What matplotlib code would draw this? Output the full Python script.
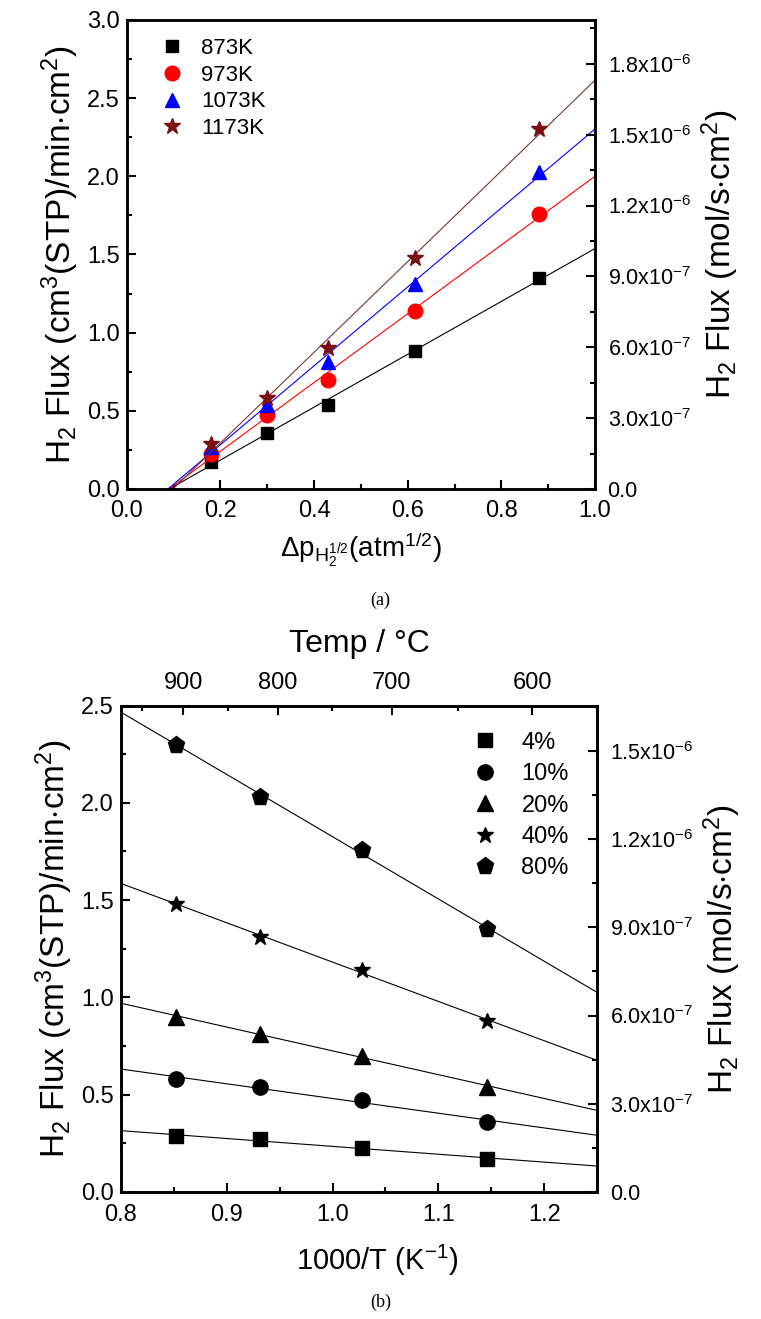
import numpy as np
import matplotlib
matplotlib.use('Agg')
import matplotlib.pyplot as plt
from matplotlib.ticker import MultipleLocator, FixedLocator

plt.rcParams['font.family'] = ['Liberation Sans', 'DejaVu Sans']
plt.rcParams['mathtext.fontset'] = 'custom'
plt.rcParams['mathtext.rm'] = 'Liberation Sans'
plt.rcParams['mathtext.it'] = 'Liberation Sans:italic'
plt.rcParams['mathtext.bf'] = 'Liberation Sans:bold'

# measured data, H2 flux in cm3(STP)/min.cm2
dp_half = [0.18, 0.30, 0.43, 0.615, 0.88]          # sqrt pressure difference
conc_labels = ['4%', '10%', '20%', '40%', '80%']    # one per dp_half value
temps_K = [873, 973, 1073, 1173]
temp_labels = ['873K', '973K', '1073K', '1173K']
flux_873 = [0.17, 0.36, 0.54, 0.88, 1.35]
flux_973 = [0.225, 0.47, 0.70, 1.14, 1.76]
flux_1073 = [0.27, 0.54, 0.81, 1.31, 2.03]
flux_1173 = [0.285, 0.58, 0.90, 1.48, 2.30]
flux_by_temp = [flux_873, flux_973, flux_1073, flux_1173]

temp_ticks_C = [900, 800, 700, 600]
temp_minor_C = [950, 850, 750, 650]

mol_factor = 6.62e-7  # right axis scale

def style(ax, size):
    for s in ax.spines.values():
        s.set_linewidth(1.8)
    ax.tick_params(which='both', direction='in', width=1.5, labelsize=size)
    ax.tick_params(which='major', length=6.5)
    ax.tick_params(which='minor', length=3.5)

def mol_fmt(v, pos):
    if v < 1e-12:
        return '0.0' if abs(v) < 1e-12 else ''
    e = int(np.floor(np.log10(v) + 1e-9))
    return '%.1fx10$^{%d}$' % (v / 10**e, e)

fig = plt.figure(figsize=(7.61, 13.19), dpi=100)

# ---------- (a) ----------
ax1 = fig.add_axes([0.1665, 0.6293, 0.6154, 0.3556])
colors = ['black', 'red', 'blue', '#7a1010']
line_colors = ['black', 'red', 'blue', '#7a3535']
markers = ['s', 'o', '^', '*']
sizes = [9, 10.5, 10.5, 12]
for flux, lab, c, lc, m, ms in zip(flux_by_temp, temp_labels, colors, line_colors, markers, sizes):
    k, b = np.polyfit(dp_half, flux, 1)
    xs = np.array([-b / k, 1.0])
    ax1.plot(xs, k * xs + b, color=lc, lw=0.8)
    ax1.plot(dp_half, flux, ls='none', marker=m, ms=ms, color=c, label=lab)

ax1.set_xlim(0, 1.0)
ax1.set_ylim(0, 3.0)
ax1.xaxis.set_major_locator(MultipleLocator(0.2))
ax1.xaxis.set_minor_locator(MultipleLocator(0.1))
ax1.yaxis.set_major_locator(MultipleLocator(0.5))
ax1.yaxis.set_minor_locator(MultipleLocator(0.25))
ax1.xaxis.set_major_formatter(lambda v, p: '%.1f' % v)
ax1.yaxis.set_major_formatter(lambda v, p: '%.1f' % v)
style(ax1, 17)
ax1.tick_params(axis='x', pad=8)
ax1.tick_params(axis='y', pad=5)
ax1.set_xlabel(r'$\Delta\mathrm{p}_{\mathrm{H}_2^{1/2}}$(atm$^{1/2}$)', fontsize=20, labelpad=6)
ax1.set_ylabel(r'H$_2$ Flux (cm$^3$(STP)/min$\cdot$cm$^2$)', fontsize=24, labelpad=4)
ax1.legend(loc='upper left', bbox_to_anchor=(0.054, 0.98), frameon=False, fontsize=16,
           handlelength=1.0, handletextpad=0.8, labelspacing=0.25, borderaxespad=0)

ax1r = ax1.twinx()
ax1r.set_ylim(0, 3.0 * mol_factor)
ax1r.yaxis.set_major_locator(MultipleLocator(3e-7))
ax1r.yaxis.set_minor_locator(MultipleLocator(1.5e-7))
ax1r.yaxis.set_major_formatter(mol_fmt)
style(ax1r, 15.5)
ax1r.tick_params(axis='y', pad=9)
ax1r.set_ylabel(r'H$_2$ Flux (mol/s$\cdot$cm$^2$)', fontsize=24, labelpad=6)

fig.text(0.5, 1 - 600 / 1319, '(a)', ha='center', va='center', fontsize=13,
         family='Liberation Serif')

# ---------- (b) ----------
ax2 = fig.add_axes([0.1586, 0.0965, 0.6263, 0.3685])
inv_T = 1000.0 / np.array(temps_K)
markers_b = ['s', 'o', '^', '*', 'p']
sizes_b = [10, 11, 11, 12, 12.5]
x_fit = np.array([0.8, 1.25])
for i, lab in enumerate(conc_labels):
    y = [flux[i] for flux in flux_by_temp]
    k, b = np.polyfit(inv_T, y, 1)
    ax2.plot(x_fit, k * x_fit + b, color='black', lw=0.8)
    ax2.plot(inv_T, y, ls='none', marker=markers_b[i], ms=sizes_b[i], color='black', label=lab)

ax2.set_xlim(0.8, 1.25)
ax2.set_ylim(0, 2.5)
ax2.xaxis.set_major_locator(MultipleLocator(0.1))
ax2.xaxis.set_minor_locator(MultipleLocator(0.05))
ax2.yaxis.set_major_locator(MultipleLocator(0.5))
ax2.yaxis.set_minor_locator(MultipleLocator(0.25))
ax2.xaxis.set_major_formatter(lambda v, p: '%.1f' % v)
ax2.yaxis.set_major_formatter(lambda v, p: '%.1f' % v)
style(ax2, 17)
ax2.tick_params(axis='x', pad=9)
ax2.tick_params(axis='y', pad=5)
ax2.set_xlabel(r'1000/T (K$^{-1}$)', fontsize=21, labelpad=12)
ax2.xaxis.label.set_x(0.539)
ax2.set_ylabel(r'H$_2$ Flux (cm$^3$(STP)/min$\cdot$cm$^2$)', fontsize=24, labelpad=4)
ax2.legend(loc='upper right', bbox_to_anchor=(0.96, 0.966), frameon=False, fontsize=17,
           handlelength=1.0, handletextpad=1.06, labelspacing=0.4, borderaxespad=0)

ax2r = ax2.twinx()
ax2r.set_ylim(0, 2.5 * mol_factor)
ax2r.yaxis.set_major_locator(MultipleLocator(3e-7))
ax2r.yaxis.set_minor_locator(MultipleLocator(1.5e-7))
ax2r.yaxis.set_major_formatter(mol_fmt)
style(ax2r, 15.5)
ax2r.tick_params(axis='y', pad=9)
ax2r.set_ylabel(r'H$_2$ Flux (mol/s$\cdot$cm$^2$)', fontsize=24, labelpad=6)

ax2t = ax2.twiny()
ax2t.set_xlim(0.8, 1.2)
ax2t.xaxis.set_major_locator(FixedLocator([1000.0 / (t + 273.15) for t in temp_ticks_C]))
ax2t.xaxis.set_minor_locator(FixedLocator([1000.0 / (t + 273.15) for t in temp_minor_C]))
ax2t.set_xticklabels([str(t) for t in temp_ticks_C])
style(ax2t, 17)
ax2t.tick_params(axis='x', pad=8.5)
ax2t.set_xlabel('Temp / \u00b0C', fontsize=23, labelpad=14)

fig.text(0.5, 1 - 1302 / 1319, '(b)', ha='center', va='center', fontsize=13,
         family='Liberation Serif')

fig.savefig('out.png', dpi=100)
